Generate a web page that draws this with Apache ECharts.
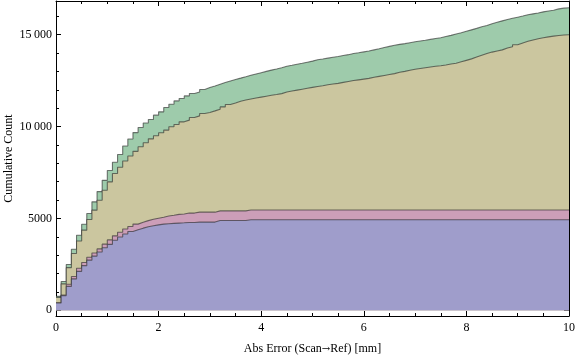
<!DOCTYPE html>
<html>
<head>
<meta charset="utf-8">
<script src="https://cdn.jsdelivr.net/npm/echarts@6/dist/echarts.min.js"></script>
<style>html,body{margin:0;padding:0;background:#fff}#c{width:576px;height:357px}</style>
</head>
<body>
<div id="c"></div>
<script>
// Bin width 0.1 mm, 100 bins from 0 to 10
var binWidth = 0.1;
var xTicks = [0, 2, 4, 6, 8, 10];
var yTickValues = [0, 5000, 10000, 15000];
var yTickLabels = ['0', '5000', '10\u2009000', '15\u2009000'];
var yMinorTickValues = [1000, 2000, 3000, 4000, 6000, 7000, 8000, 9000, 11000, 12000, 13000, 14000, 16000];

// cumulative counts per bin (top series first)
var greenCounts = [
  760, 1570, 2490, 3320, 4080, 4680, 5270, 5900, 6460, 7070,
  7610, 8060, 8480, 8940, 9320, 9670, 9950, 10190, 10385, 10618,
  10797, 11036, 11215, 11394, 11524, 11665, 11795, 11882, 12012, 12120,
  12207, 12300, 12392, 12480, 12563, 12635, 12710, 12790, 12860, 12930,
  13000, 13070, 13130, 13200, 13280, 13330, 13390, 13440, 13500, 13560,
  13630, 13670, 13720, 13770, 13810, 13860, 13910, 13970, 14010, 14060,
  14110, 14170, 14230, 14300, 14360, 14420, 14470, 14510, 14560, 14610,
  14650, 14690, 14740, 14790, 14830, 14900, 14960, 15030, 15100, 15180,
  15260, 15340, 15430, 15500, 15590, 15670, 15750, 15820, 15890, 15950,
  16010, 16080, 16130, 16180, 16240, 16290, 16330, 16400, 16440, 16460
];
var tanCounts = [
  700, 1440, 2320, 3090, 3770, 4360, 4940, 5450, 5990, 6530,
  6990, 7440, 7780, 8120, 8400, 8650, 8900, 9120, 9330, 9500,
  9660, 9805, 9984, 10114, 10255, 10347, 10494, 10580, 10711, 10765,
  10852, 10944, 11068, 11199, 11285, 11378, 11440, 11500, 11550, 11600,
  11650, 11700, 11740, 11790, 11880, 11930, 11980, 12030, 12080, 12130,
  12180, 12220, 12270, 12310, 12350, 12400, 12450, 12500, 12540, 12580,
  12620, 12680, 12730, 12780, 12830, 12880, 12950, 13000, 13060, 13120,
  13160, 13200, 13240, 13280, 13310, 13350, 13400, 13440, 13520, 13600,
  13680, 13780, 13880, 13970, 14050, 14110, 14170, 14270, 14340, 14450,
  14550, 14640, 14710, 14780, 14830, 14880, 14920, 14950, 14980, 14990
];
var pinkCounts = [
  410, 830, 1420, 1840, 2290, 2600, 2890, 3120, 3340, 3600,
  3830, 4050, 4250, 4420, 4560, 4690, 4790, 4880, 4950, 5010,
  5060, 5130, 5170, 5220, 5240, 5290, 5290, 5340, 5340, 5340,
  5340, 5410, 5410, 5410, 5410, 5410, 5410, 5460, 5460, 5460,
  5460, 5460, 5460, 5460, 5460, 5460, 5460, 5460, 5460, 5460,
  5460, 5460, 5460, 5460, 5460, 5460, 5460, 5460, 5460, 5460,
  5460, 5460, 5460, 5460, 5460, 5460, 5460, 5460, 5460, 5460,
  5460, 5460, 5460, 5460, 5460, 5460, 5460, 5460, 5460, 5460,
  5460, 5460, 5460, 5460, 5460, 5460, 5460, 5460, 5460, 5460,
  5460, 5460, 5460, 5460, 5460, 5460, 5460, 5460, 5460, 5460
];
var blueCounts = [
  400, 800, 1300, 1710, 2120, 2430, 2730, 2950, 3170, 3400,
  3590, 3810, 3990, 4150, 4290, 4380, 4470, 4550, 4600, 4650,
  4690, 4710, 4730, 4745, 4760, 4780, 4780, 4800, 4800, 4800,
  4800, 4890, 4890, 4890, 4890, 4890, 4890, 4925, 4925, 4925,
  4925, 4925, 4925, 4925, 4925, 4925, 4925, 4925, 4925, 4925,
  4925, 4925, 4925, 4925, 4925, 4925, 4925, 4925, 4925, 4925,
  4925, 4925, 4925, 4925, 4925, 4925, 4925, 4925, 4925, 4925,
  4925, 4925, 4925, 4925, 4925, 4925, 4925, 4925, 4925, 4925,
  4925, 4925, 4925, 4925, 4925, 4925, 4925, 4925, 4925, 4925,
  4925, 4925, 4925, 4925, 4925, 4925, 4925, 4925, 4925, 4925
];

function toSteps(counts) {
  var pts = [];
  for (var i = 0; i < counts.length; i++) {
    pts.push([+(i * binWidth).toFixed(2), counts[i]]);
  }
  pts.push([+(counts.length * binWidth).toFixed(2), counts[counts.length - 1]]);
  return pts;
}

var FONT = '"Liberation Serif", "DejaVu Serif", serif';
var lineCol = 'rgba(40,40,40,0.62)';

function stepSeries(name, counts, fill, z) {
  return {
    name: name, type: 'line', step: 'end', data: toSteps(counts),
    xAxisIndex: 0, yAxisIndex: 0, symbol: 'none', z: z,
    lineStyle: { color: lineCol, width: 1.1 },
    areaStyle: { color: fill, opacity: 1 },
    silent: true
  };
}

function xAx(pos, showLabel) {
  return {
    type: 'value', position: pos, min: 0, max: 10, interval: 2,
    axisLine: { show: true, onZero: false, lineStyle: { color: '#000', width: 1 } },
    axisTick: { show: true, inside: true, length: 5, lineStyle: { color: '#000', width: 1 } },
    minorTick: { show: true, splitNumber: 4, length: 3, lineStyle: { color: '#000', width: 1 } },
    splitLine: { show: false },
    axisLabel: {
      show: showLabel, margin: 6, fontFamily: FONT, fontSize: 12, color: '#000',
      formatter: function (v) { return String(v); }
    },
    name: showLabel ? 'Abs Error (Scan{a|\u2192}Ref) [mm]' : '',
    nameLocation: 'middle', nameGap: 27, nameMoveOverlap: false,
    nameTextStyle: {
      fontFamily: FONT, fontSize: 12, color: '#000',
      rich: { a: { fontFamily: '"DejaVu Serif", serif', fontSize: 10, color: '#000' } }
    }
  };
}

function yAx(pos, major, showLabel) {
  return {
    type: 'value', position: pos, min: -310, max: 16830,
    axisLine: { show: major, onZero: false, lineStyle: { color: '#000', width: 1 } },
    axisTick: {
      show: true, inside: true, length: major ? 5 : 3,
      customValues: major ? yTickValues : yMinorTickValues,
      lineStyle: { color: '#000', width: 1 }
    },
    splitLine: { show: false },
    axisLabel: {
      show: showLabel, margin: 4, fontFamily: FONT, fontSize: 12, color: '#000',
      customValues: yTickValues,
      formatter: function (v) {
        var i = yTickValues.indexOf(v);
        return i >= 0 ? yTickLabels[i] : '';
      }
    },
    name: showLabel ? 'Cumulative Count' : '',
    nameLocation: 'middle', nameGap: 41, nameRotate: 90, nameMoveOverlap: false,
    nameTextStyle: { fontFamily: FONT, fontSize: 12, color: '#000' }
  };
}

var chart = echarts.init(document.getElementById('c'), null, { renderer: 'canvas' });
chart.setOption({
  animation: false,
  backgroundColor: '#fff',
  grid: { left: 56, right: 7, top: 1, bottom: 41, containLabel: false, outerBoundsMode: 'none' },
  xAxis: [xAx('bottom', true), xAx('top', false)],
  yAxis: [yAx('left', true, true), yAx('left', false, false), yAx('right', true, false), yAx('right', false, false)],
  series: [
    stepSeries('green', greenCounts, '#9ecbab', 2),
    stepSeries('tan', tanCounts, '#cbc69f', 3),
    stepSeries('pink', pinkCounts, '#cc9eb8', 4),
    stepSeries('blue', blueCounts, '#9f9dcb', 5)
  ]
});
</script>
</body>
</html>
